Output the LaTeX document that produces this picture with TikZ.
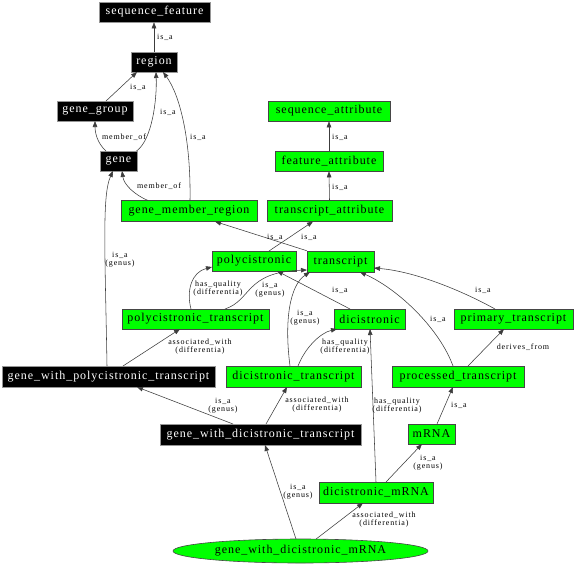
\documentclass[tikz,border=0pt]{standalone}
\usepackage{fontspec}
\setmainfont{Liberation Serif}
\newfontfamily\nodefont[LetterSpace=8]{Liberation Serif}
\newfontfamily\lblfont[LetterSpace=11]{Liberation Serif}
\usetikzlibrary{arrows.meta,shapes.geometric,calc}
\definecolor{lime}{RGB}{0,255,0}
\definecolor{gborder}{RGB}{70,70,70}
\definecolor{bborder}{RGB}{150,150,150}
\definecolor{edgec}{RGB}{60,60,60}
\tikzset{
  base/.style={draw, rectangle, inner sep=0pt, minimum height=20pt, line width=0.6pt,
    font={\nodefont\fontsize{12}{14}\selectfont}},
  blk/.style={base, fill=black, draw=bborder, text=white},
  grn/.style={base, fill=lime, draw=gborder},
  edge/.style={draw=edgec, line width=0.55pt, -{Triangle[length=6pt,width=4.5pt]}},
  lbl/.style={inner sep=0pt, align=center, font={\lblfont\fontsize{8}{8}\selectfont}},
}
\begin{document}
\begin{tikzpicture}[x=1pt,y=-1pt]
\path[fill=white] (0,0) rectangle (576,566);
\useasboundingbox (0,0) rectangle (576,566);

% nodes
\node[blk, minimum width=111] (sf) at (154.5,12) {sequence\_feature};
\node[blk, minimum width=46] (reg) at (154,62) {region};
\node[blk, minimum width=76] (gg) at (95,111) {gene\_group};
\node[blk, minimum width=37] (gene) at (118.5,161) {gene};
\node[grn, minimum width=122] (sa) at (329,111) {sequence\_attribute};
\node[grn, minimum width=108] (fa) at (329,161) {feature\_attribute};
\node[grn, minimum width=136, minimum height=21] (gmr) at (189,211) {gene\_member\_region};
\node[grn, minimum width=125, minimum height=21] (ta) at (329.5,211) {transcript\_attribute};
\node[grn, minimum width=84] (poly) at (254,261) {polycistronic};
\node[grn, minimum width=67, minimum height=21] (tr) at (340.5,261.5) {transcript};
\node[grn, minimum width=147] (pt) at (195.5,319) {polycistronic\_transcript};
\node[grn, minimum width=71] (dic) at (369.5,319) {dicistronic};
\node[grn, minimum width=119] (prim) at (513.5,319) {primary\_transcript};
\node[blk, minimum width=213, minimum height=21] (gwpt) at (108.5,376.5) {gene\_with\_polycistronic\_transcript};
\node[grn, minimum width=135, minimum height=21] (dt) at (293.5,376.5) {dicistronic\_transcript};
\node[grn, minimum width=132, minimum height=21] (proc) at (458,376.5) {processed\_transcript};
\node[blk, minimum width=201, minimum height=21] (gwdt) at (260.5,434.5) {gene\_with\_dicistronic\_transcript};
\node[grn, minimum width=47] (mrna) at (431.5,434) {mRNA};
\node[grn, minimum width=114, minimum height=21] (dm) at (376,492.5) {dicistronic\_mRNA};
\node[ellipse, draw=gborder, fill=lime, line width=0.6pt, inner sep=0pt, minimum width=255, minimum height=24,
  font={\nodefont\fontsize{12}{14}\selectfont}] (gwdm) at (300.5,551) {gene\_with\_dicistronic\_mRNA};

% edges
\draw[edge] (reg.north) -- (reg.north |- sf.south);
\draw[edge] ($(gg)+(11,-10)$) -- ($(reg)+(-17,10)$);
\draw[edge] ($(gene)+(18,-10)$) .. controls (152,140) and (157,100) .. ($(reg)+(2,10)$);
\draw[edge] ($(gene)+(-12.5,-10)$) .. controls (97,143) and (95,132) .. ($(gg)+(0,10)$);
\draw[edge] ($(gmr)+(1,-10.5)$) .. controls (191,140) and (180,95) .. ($(reg)+(9,10)$);
\draw[edge] ($(gmr)+(-41,-10.5)$) .. controls (135,195) and (124,185) .. ($(gene)+(3.5,10)$);
\draw[edge] (fa.north) -- (sa.south);
\draw[edge] (ta.north) -- (fa.south);
\draw[edge] ($(poly)+(15,-10)$) -- ($(ta)+(-16.5,10.5)$);
\draw[edge] (tr.north west) -- ($(gmr)+(26,10.5)$);
\draw[edge] ($(pt)+(-4.5,-10)$) .. controls (186,290) and (192,272) .. ($(poly)+(-42,6)$);
\draw[edge] ($(pt)+(29.5,-10)$) .. controls (252,300) and (245,272) .. ($(tr)+(-33.5,8.5)$);
\draw[edge] ($(dic)+(-19.5,-10)$) -- ($(poly)+(23,10)$);
\draw[edge] ($(dt)+(-3.5,-10.5)$) .. controls (284,320) and (290,285) .. ($(tr)+(-30.5,10.5)$);
\draw[edge] ($(dt)+(4.5,-10.5)$) .. controls (305,348) and (320,333) .. ($(dic)+(-32.5,10)$);
\draw[edge] ($(proc)+(-5,-10.5)$) .. controls (440,330) and (400,290) .. ($(tr)+(19.5,10.5)$);
\draw[edge] ($(prim)+(-18.5,-10)$) .. controls (470,295) and (420,272) .. ($(tr)+(33.5,6.5)$);
\draw[edge] ($(proc)+(10,-10.5)$) -- ($(prim)+(-9.5,10)$);
\draw[edge] ($(gwpt)+(14.5,-10.5)$) -- ($(pt)+(-15.5,10)$);
\draw[edge] ($(gwpt)+(-1.5,-10.5)$) .. controls (105,250) and (102,195) .. ($(gene)+(-5.5,10)$);
\draw[edge] ($(gwdt)+(-27.5,-10.5)$) -- ($(gwpt)+(28.5,10.5)$);
\draw[edge] ($(gwdt)+(5.5,-10.5)$) -- ($(dt)+(-6.5,10.5)$);
\draw[edge] ($(gwdm)+(-4.5,-12)$) -- ($(gwdt)+(4.5,10.5)$);
\draw[edge] ($(gwdm)+(15.5,-11.9)$) -- ($(dm)+(-13,10.5)$);
\draw[edge] ($(dm)+(10,-10.5)$) -- ($(mrna)+(-9.5,10)$);
\draw[edge] ($(mrna)+(5.5,-10)$) -- ($(proc)+(-5,10.5)$);
\draw[edge] ($(dm)+(0,-10.5)$) -- ($(dic)+(0.5,10)$);

% labels
\node[lbl] (l1) at (165,37) {is\_a};
\node[lbl] (l2) at (138,87) {is\_a};
\node[lbl] (l3) at (168,112) {is\_a};
\node[lbl] (l4) at (124,137) {member\_of};
\node[lbl] (l5) at (198,137) {is\_a};
\node[lbl] (l6) at (159,186) {member\_of};
\node[lbl] (l7) at (340,137) {is\_a};
\node[lbl] (l8) at (340,187) {is\_a};
\node[lbl] (l9) at (309,237) {is\_a};
\node[lbl] (l10) at (275,237) {is\_a};
\node[lbl] (l11) at (218,289) {has\_quality\\(differentia)};
\node[lbl] (l12) at (270,290) {is\_a\\(genus)};
\node[lbl] (l13) at (340,290) {is\_a};
\node[lbl] (l14) at (305,318) {is\_a\\(genus)};
\node[lbl] (l15) at (345,347) {has\_quality\\(differentia)};
\node[lbl] (l16) at (438,319) {is\_a};
\node[lbl] (l17) at (483,290) {is\_a};
\node[lbl] (l18) at (523,347) {derives\_from};
\node[lbl] (l19) at (200,347) {associated\_with\\(differentia)};
\node[lbl] (l20) at (120,260) {is\_a\\(genus)};
\node[lbl] (l21) at (223,405.5) {is\_a\\(genus)};
\node[lbl] (l22) at (317,405) {associated\_with\\(differentia)};
\node[lbl] (l23) at (298,492) {is\_a\\(genus)};
\node[lbl] (l24) at (384,520) {associated\_with\\(differentia)};
\node[lbl] (l25) at (428,463) {is\_a\\(genus)};
\node[lbl] (l26) at (459,405) {is\_a};
\node[lbl] (l27) at (397,405.5) {has\_quality\\(differentia)};
\end{tikzpicture}
\end{document}
